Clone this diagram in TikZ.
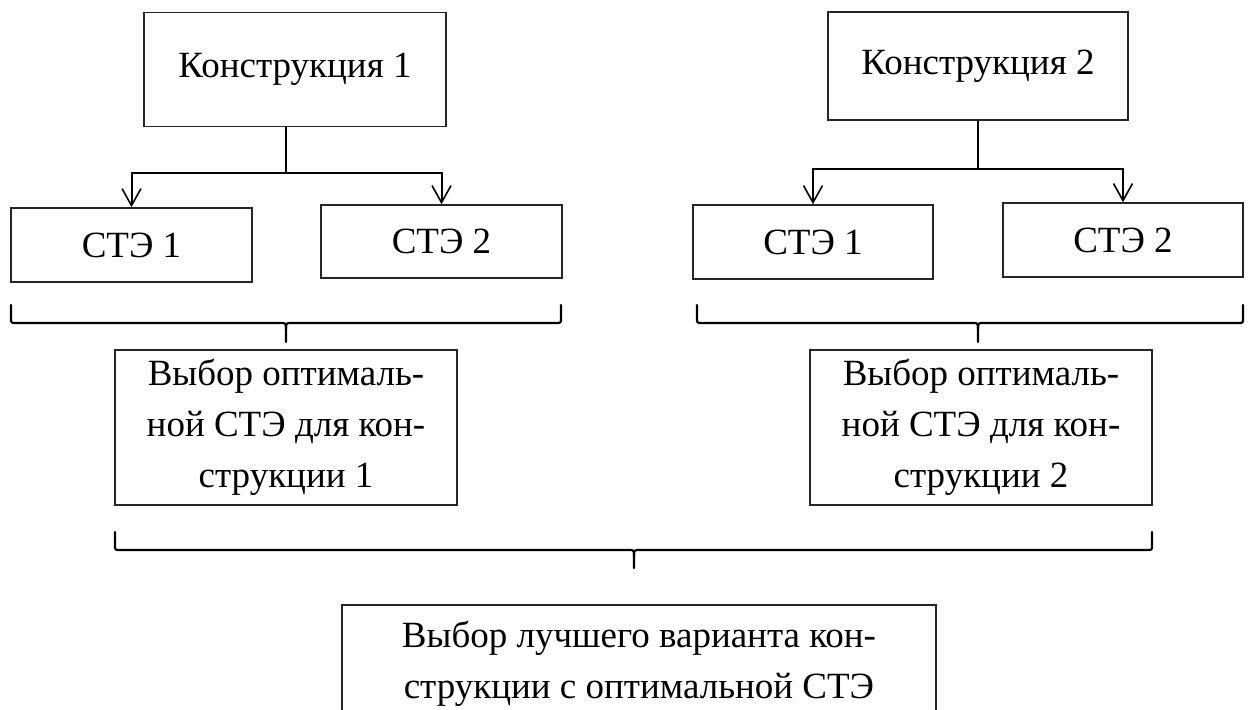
\documentclass[tikz,border=0pt]{standalone}
\usepackage{fontspec}
\setmainfont{Liberation Serif}
\usetikzlibrary{arrows.meta}
\newcommand\mybrace[6]{%
  \draw[brc] (#1,#4) -- (#1,#5-5) .. controls (#1,#5) .. (#1+5,#5) -- (#3-6,#5) .. controls (#3,#5) .. (#3,#5+6) -- (#3,#6);
  \draw[brc] (#3,#5+6) .. controls (#3,#5) .. (#3+6,#5) -- (#2-5,#5) .. controls (#2,#5) .. (#2,#5-5) -- (#2,#4);}
\begin{document}
\begin{tikzpicture}[x=0.5pt,y=-0.5pt,
  box/.style={draw=black!85, line width=0.8pt, inner sep=0pt, align=center,
    font=\fontsize{18.5}{25.5}\selectfont},
  conn/.style={line width=1pt},
  arr/.style={conn,-{Straight Barb[length=8.5pt,width=9.5pt,line width=0.8pt]}},
  brc/.style={line width=1.1pt, line join=round, line cap=round}]
\useasboundingbox (0,0) rectangle (1259,710);
% top boxes
\node[box, minimum width=151pt, minimum height=57pt] (k1) at (295,69.5) {Конструкция 1};
\node[box, minimum width=150pt, minimum height=54pt] (k2) at (978,66) {Конструкция 2};
% STE boxes
\node[box, minimum width=120.5pt, minimum height=37pt] (s1L) at (131.5,245) {СТЭ 1};
\node[box, minimum width=120.5pt, minimum height=36.5pt] (s2L) at (441.5,241.5) {СТЭ 2};
\node[box, minimum width=120pt, minimum height=37pt] (s1R) at (813,242) {СТЭ 1};
\node[box, minimum width=120pt, minimum height=37pt] (s2R) at (1123,240) {СТЭ 2};
% middle boxes
\node[box, minimum width=171pt, minimum height=77.5pt] (mL) at (286,427.5) {Выбор оптималь-\\ной СТЭ для кон-\\струкции 1};
\node[box, minimum width=171pt, minimum height=77.5pt] (mR) at (981,427.5) {Выбор оптималь-\\ной СТЭ для кон-\\струкции 2};
% bottom box
\node[box, anchor=north, minimum width=297pt, inner ysep=8pt] (bot) at (639,604) {Выбор лучшего варианта кон-\\струкции с оптимальной СТЭ};
% connectors
\coordinate (j1) at (286,173);
\coordinate (j2) at (978,169);
\draw[conn] (k1.south -| j1) -- (j1);
\draw[arr] (j1) -| (s1L.north);
\draw[arr] (j1) -| (s2L.north);
\draw[conn] (k2.south -| j2) -- (j2);
\draw[arr] (j2) -| (s1R.north);
\draw[arr] (j2) -| (s2R.north);
% braces
\mybrace{11}{561}{286}{305}{323}{342}
\mybrace{697}{1243}{978}{305}{323}{342}
\mybrace{115}{1152}{634}{532}{550}{568}
\end{tikzpicture}
\end{document}
